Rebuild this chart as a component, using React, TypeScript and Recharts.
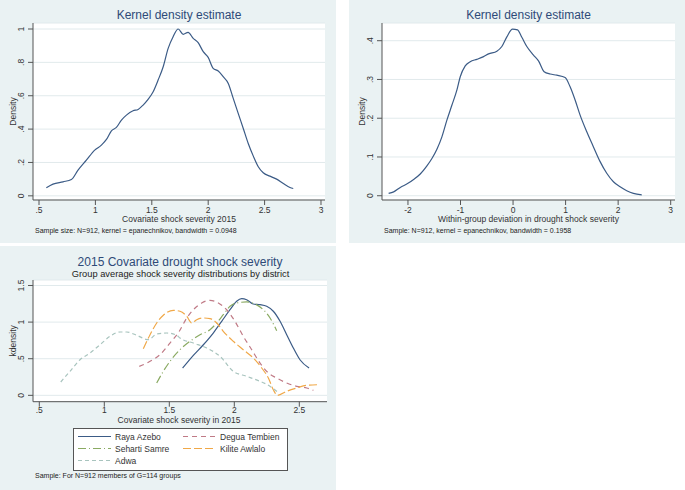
import { LineChart, Line, XAxis, YAxis, CartesianGrid } from "recharts";

// panel 1: kernel density of covariate shock severity 2015
const sevX = [0.565, 0.624, 0.713, 0.787, 0.846, 0.92, 0.994, 1.053, 1.098, 1.142, 1.186, 1.231, 1.275, 1.334, 1.379, 1.423, 1.467, 1.512, 1.556, 1.601, 1.645, 1.689, 1.734, 1.778, 1.822, 1.867, 1.911, 1.956, 2.0, 2.044, 2.089, 2.133, 2.178, 2.222, 2.266, 2.311, 2.355, 2.4, 2.444, 2.488, 2.547, 2.607, 2.666, 2.725, 2.754];
const sevDensity = [0.048, 0.07, 0.084, 0.098, 0.154, 0.214, 0.274, 0.304, 0.338, 0.39, 0.41, 0.454, 0.484, 0.51, 0.518, 0.544, 0.578, 0.624, 0.694, 0.774, 0.884, 0.954, 1.0, 0.968, 0.98, 0.944, 0.918, 0.864, 0.83, 0.764, 0.748, 0.714, 0.674, 0.584, 0.494, 0.404, 0.314, 0.238, 0.174, 0.138, 0.118, 0.1, 0.074, 0.05, 0.044];
const sevXTicks = [0.5, 1, 1.5, 2, 2.5, 3];
const sevYTicks = [0, 0.2, 0.4, 0.6, 0.8, 1];

// panel 2: within-group deviation
const devX = [-2.368, -2.272, -2.146, -2.0, -1.892, -1.766, -1.639, -1.544, -1.449, -1.354, -1.259, -1.163, -1.068, -1.005, -0.91, -0.815, -0.688, -0.561, -0.466, -0.308, -0.213, -0.118, -0.01, 0.085, 0.167, 0.262, 0.389, 0.484, 0.592, 0.706, 0.833, 0.991, 1.086, 1.181, 1.276, 1.403, 1.53, 1.657, 1.783, 1.91, 2.037, 2.163, 2.29, 2.449];
const devDensity = [0.006, 0.01, 0.0215, 0.032, 0.042, 0.056, 0.077, 0.096, 0.12, 0.152, 0.195, 0.234, 0.273, 0.307, 0.335, 0.346, 0.352, 0.359, 0.366, 0.373, 0.385, 0.41, 0.43, 0.428, 0.409, 0.385, 0.363, 0.348, 0.32, 0.314, 0.311, 0.305, 0.281, 0.247, 0.208, 0.165, 0.126, 0.088, 0.058, 0.036, 0.023, 0.013, 0.006, 0.002];
const devXTicks = [-2, -1, 0, 1, 2, 3];
const devYTicks = [0, 0.1, 0.2, 0.3, 0.4];

// panel 3: group averages by district
const rayaX = [1.603, 1.685, 1.762, 1.838, 1.903, 1.967, 2.018, 2.057, 2.095, 2.146, 2.198, 2.249, 2.3, 2.352, 2.403, 2.454, 2.505, 2.575];
const rayaY = [0.373, 0.546, 0.691, 0.851, 1.011, 1.169, 1.284, 1.32, 1.306, 1.247, 1.238, 1.216, 1.148, 1.011, 0.828, 0.646, 0.486, 0.373];
const deguaX = [1.269, 1.352, 1.428, 1.505, 1.575, 1.634, 1.685, 1.749, 1.813, 1.877, 1.941, 2.005, 2.069, 2.134, 2.198, 2.262, 2.326, 2.403, 2.48, 2.557, 2.608];
const deguaY = [0.396, 0.464, 0.555, 0.714, 0.87, 1.056, 1.169, 1.261, 1.298, 1.261, 1.169, 1.011, 0.806, 0.623, 0.441, 0.305, 0.236, 0.168, 0.123, 0.1, 0.068];
const sehartiX = [1.403, 1.454, 1.505, 1.582, 1.659, 1.736, 1.813, 1.865, 1.915, 1.967, 2.018, 2.095, 2.159, 2.223, 2.275, 2.326];
const sehartiY = [0.168, 0.328, 0.464, 0.623, 0.738, 0.828, 0.896, 0.988, 1.101, 1.216, 1.261, 1.275, 1.247, 1.169, 1.056, 0.883];
const kiliteX = [1.3, 1.352, 1.403, 1.454, 1.531, 1.582, 1.634, 1.672, 1.711, 1.762, 1.813, 1.865, 1.915, 1.992, 2.069, 2.146, 2.211, 2.262, 2.3, 2.331, 2.403, 2.48, 2.557, 2.646];
const kiliteY = [0.637, 0.828, 0.988, 1.093, 1.161, 1.148, 1.079, 0.988, 1.033, 1.056, 1.047, 0.988, 0.874, 0.738, 0.623, 0.51, 0.373, 0.236, 0.077, 0.0, 0.055, 0.1, 0.137, 0.145];
const adwaX = [0.665, 0.736, 0.813, 0.89, 0.967, 1.044, 1.121, 1.172, 1.249, 1.338, 1.403, 1.48, 1.557, 1.582, 1.685, 1.788, 1.89, 1.992, 2.095, 2.198, 2.25, 2.33];
const adwaY = [0.182, 0.328, 0.486, 0.578, 0.691, 0.806, 0.865, 0.865, 0.82, 0.76, 0.837, 0.851, 0.82, 0.783, 0.714, 0.646, 0.533, 0.328, 0.26, 0.191, 0.15, 0.05];
const grpXTicks = [0.5, 1, 1.5, 2, 2.5];
const grpYTicks = [0, 0.5, 1, 1.5];

const zip = (xs: number[], ys: number[]) => xs.map((x, i) => ({ x, y: ys[i] }));

const FONT = "'Liberation Sans', Arial, sans-serif";
const BG = "#EAF2F3";
const AXIS = "#555";
const TXT = "#333";
const TITLE = "#2E4A78";
const NAVY = "#3B5B86";

const districts = [
  { name: "Raya Azebo", data: zip(rayaX, rayaY), color: NAVY, dash: "" },
  { name: "Degua Tembien", data: zip(deguaX, deguaY), color: "#C07A86", dash: "5 4" },
  { name: "Seharti Samre", data: zip(sehartiX, sehartiY), color: "#8AAA62", dash: "8 3 1 3" },
  { name: "Kilite Awlalo", data: zip(kiliteX, kiliteY), color: "#F0A848", dash: "8 3" },
  { name: "Adwa", data: zip(adwaX, adwaY), color: "#A8C4BE", dash: "4 3" },
];

const fmt = (v: number) => String(v).replace(/^(-?)0\./, "$1.");

function RotTick(props: any) {
  const { x, y, payload } = props;
  return (
    <text x={x} y={y} transform={`rotate(-90 ${x} ${y})`} textAnchor="middle"
      fontSize={8.5} fill={TXT} fontFamily={FONT}>
      {fmt(payload.value)}
    </text>
  );
}

function Axes({ xDomain, yDomain, xTicks, yTicks, xMargin = 1.5 }: any) {
  return [
    <CartesianGrid key="g" vertical={false} fill="#fff" stroke="#E1EAEC" />,
    <XAxis key="x" dataKey="x" type="number" domain={xDomain} ticks={xTicks} allowDataOverflow
      height={20} stroke={AXIS} tickSize={5} tickMargin={xMargin} tickFormatter={fmt}
      tick={{ fontSize: 8.5, fill: TXT, fontFamily: FONT }} />,
    <YAxis key="y" dataKey="y" type="number" domain={yDomain} ticks={yTicks} allowDataOverflow
      width={33} stroke={AXIS} tickSize={5} tickMargin={3.5} tick={(p: any) => <RotTick {...p} />} />,
  ];
}

function Panel({ left, top, w, h, children }: any) {
  return (
    <div style={{ position: "absolute", left, top, width: w, height: h, background: BG }}>
      {children}
    </div>
  );
}

function Overlay({ w, h, children }: any) {
  return (
    <svg width={w} height={h} style={{ position: "absolute", left: 0, top: 0, pointerEvents: "none" }}
      fontFamily={FONT}>
      {children}
    </svg>
  );
}

export default function App() {
  return (
    <div style={{ position: "absolute", left: 0, top: 0, width: 685, height: 490, background: "#fff" }}>
      <Panel left={0} top={0} w={336} h={243}>
        <div style={{ position: "absolute", left: 0, top: 0 }}>
          <LineChart width={336} height={243} data={zip(sevX, sevDensity)}
            margin={{ top: 23, right: 11, left: 0, bottom: 23 }}>
            {Axes({ xDomain: [0.4468, 3.0355], yDomain: [-0.025, 1.036], xTicks: sevXTicks, yTicks: sevYTicks })}
            <Line type="monotone" dataKey="y" stroke={NAVY} strokeWidth={1.2} dot={false} isAnimationActive={false} />
          </LineChart>
        </div>
        <Overlay w={336} h={243}>
          <text x={179} y={18.5} textAnchor="middle" fontSize={12} fill={TITLE}>Kernel density estimate</text>
          <text transform="translate(16,111.5) rotate(-90)" textAnchor="middle" fontSize={8.5} fill={TXT}>Density</text>
          <text x={179} y={222} textAnchor="middle" fontSize={8.5} fill={TXT}>Covariate shock severity 2015</text>
          <text x={35} y={232.5} fontSize={7} fill="#222">Sample size: N=912, kernel = epanechnikov, bandwidth = 0.0948</text>
        </Overlay>
      </Panel>

      <Panel left={349} top={0} w={336} h={243}>
        <div style={{ position: "absolute", left: 0, top: 0 }}>
          <LineChart width={336} height={243} data={zip(devX, devDensity)}
            margin={{ top: 23, right: 10, left: 0, bottom: 23 }}>
            {Axes({ xDomain: [-2.494, 3.082], yDomain: [-0.011, 0.4457], xTicks: devXTicks, yTicks: devYTicks })}
            <Line type="monotone" dataKey="y" stroke={NAVY} strokeWidth={1.2} dot={false} isAnimationActive={false} />
          </LineChart>
        </div>
        <Overlay w={336} h={243}>
          <text x={179.5} y={18.5} textAnchor="middle" fontSize={12} fill={TITLE}>Kernel density estimate</text>
          <text transform="translate(16,111.5) rotate(-90)" textAnchor="middle" fontSize={8.5} fill={TXT}>Density</text>
          <text x={179.5} y={222} textAnchor="middle" fontSize={8.5} fill={TXT}>Within-group deviation in drought shock severity</text>
          <text x={35} y={232.5} fontSize={7} fill="#222">Sample: N=912, kernel = epanechnikov, bandwidth = 0.1958</text>
        </Overlay>
      </Panel>

      <Panel left={0} top={246} w={336} h={244}>
        <div style={{ position: "absolute", left: 0, top: 0 }}>
          <LineChart width={336} height={244} margin={{ top: 34, right: 9, left: 0, bottom: 68.3 }}>
            {Axes({ xDomain: [0.4515, 2.713], yDomain: [-0.087, 1.575], xTicks: grpXTicks, yTicks: grpYTicks, xMargin: 0 })}
            {districts.map((d) => (
              <Line key={d.name} data={d.data} type="monotone" dataKey="y" name={d.name} stroke={d.color}
                strokeWidth={1.2} strokeDasharray={d.dash || undefined} dot={false} isAnimationActive={false} />
            ))}
          </LineChart>
        </div>
        <Overlay w={336} h={244}>
          <text x={180} y={19.5} textAnchor="middle" fontSize={12} fill={TITLE}>2015 Covariate drought shock severity</text>
          <text x={180.5} y={30.7} textAnchor="middle" fontSize={9.3} fill="#222">Group average shock severity distributions by district</text>
          <text transform="translate(16,94.8) rotate(-90)" textAnchor="middle" fontSize={8.5} fill={TXT}>kdensity</text>
          <text x={179} y={176.5} textAnchor="middle" fontSize={8.5} fill={TXT}>Covariate shock severity in 2015</text>
          <rect x={73.5} y={182.5} width={214} height={42} fill="#fff" stroke={AXIS} strokeWidth={1} />
          {districts.map((d, i) => {
            const col = i % 2;
            const row = Math.floor(i / 2);
            const lx = col === 0 ? 78 : 183;
            const base = 193.5 + row * 12;
            return (
              <g key={d.name}>
                <line x1={lx} x2={lx + 33} y1={base - 3} y2={base - 3} stroke={d.color} strokeWidth={1.2}
                  strokeDasharray={d.dash || undefined} />
                <text x={lx + 37} y={base} fontSize={8.5} fill={TXT}>{d.name}</text>
              </g>
            );
          })}
          <text x={35} y={232} fontSize={7} fill="#222">Sample: For N=912 members of G=114 groups</text>
        </Overlay>
      </Panel>
    </div>
  );
}
